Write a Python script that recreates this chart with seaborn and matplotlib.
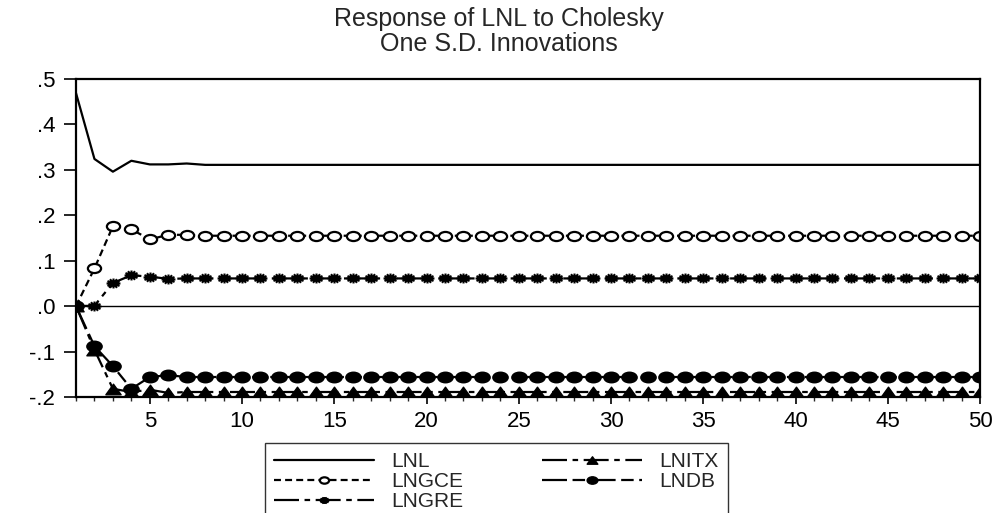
import numpy as np
import pandas as pd
import matplotlib
matplotlib.use("Agg")
import matplotlib.pyplot as plt
from matplotlib.ticker import MultipleLocator, FuncFormatter
from matplotlib.path import Path
from matplotlib.transforms import Affine2D
import seaborn as sns

# periodos 1..50
periods = list(range(1, 51))

# respostas (primeiros periodos), depois valor estavel
lnl_start = [0.469, 0.324, 0.296, 0.320, 0.312, 0.312, 0.314]
lnl_tail = 0.311
lngce_start = [0.0, 0.083, 0.176, 0.169, 0.147, 0.157, 0.157]
lngce_tail = 0.155
lngre_start = [0.0, 0.001, 0.051, 0.068, 0.065, 0.060, 0.061]
lngre_tail = 0.061
lnitx_start = [0.0, -0.096, -0.182, -0.189, -0.184, -0.191, -0.189]
lnitx_tail = -0.189
lndb_start = [0.0, -0.088, -0.132, -0.182, -0.156, -0.152, -0.156]
lndb_tail = -0.156

series_names = ["LNL", "LNGCE", "LNGRE", "LNITX", "LNDB"]
starts = [lnl_start, lngce_start, lngre_start, lnitx_start, lndb_start]
tails = [lnl_tail, lngce_tail, lngre_tail, lnitx_tail, lndb_tail]

rows = []
for name, st, tl in zip(series_names, starts, tails):
    vals = st + [tl] * (len(periods) - len(st))
    for p, v in zip(periods, vals):
        rows.append({"periodo": p, "resposta": v, "serie": name})
df = pd.DataFrame(rows)

# marcadores "achatados" como no original (mais largos que altos)
elipse = Path.unit_circle().transformed(Affine2D().scale(1.45, 1.0))
triangulo = Path([(-0.72, -0.5), (0.72, -0.5), (0, 0.5), (-0.72, -0.5)],
                 [Path.MOVETO, Path.LINETO, Path.LINETO, Path.CLOSEPOLY])
ast_verts, ast_codes = [], []
for ang in [0, 30, 60, 90, 120, 150]:
    a = np.deg2rad(ang)
    dx, dy = 0.7 * np.cos(a), 0.5 * np.sin(a)
    ast_verts += [(-dx, -dy), (dx, dy)]
    ast_codes += [Path.MOVETO, Path.LINETO]
asterisco = Path(ast_verts, ast_codes)

sns.set_style("ticks")
plt.rcParams['font.family'] = ['Liberation Sans', 'DejaVu Sans']
plt.rcParams['lines.scale_dashes'] = False

fig = plt.figure(figsize=(9.97, 5.13), dpi=100)
ax = fig.add_axes([76 / 997, 1 - 397 / 513, (980 - 76) / 997, (397 - 79) / 513])

estilos = {
    "LNL": dict(ls="-", marker=None),
    "LNGCE": dict(ls=(0, (5, 3)), marker=elipse, mfc="white", ms=9.5, mew=1.6),
    "LNGRE": dict(ls=(0, (18, 4, 4, 4)), marker=asterisco, ms=10, mew=1.5),
    "LNITX": dict(ls=(0, (18, 4, 4, 4)), marker=triangulo, mfc="black", ms=11, mew=1),
    "LNDB": dict(ls=(0, (18, 4, 9, 4)), marker=elipse, mfc="black", ms=11, mew=1),
}

for name in series_names:
    sub = df[df["serie"] == name]
    kw = dict(estilos[name])
    mk = kw.pop("marker")
    if mk is None:
        sns.lineplot(data=sub, x="periodo", y="resposta", ax=ax, color="black",
                     lw=1.6, label=name, **kw)
    else:
        sns.lineplot(data=sub, x="periodo", y="resposta", ax=ax, color="black",
                     lw=1.6, marker=mk, mec="black", label=name, **kw)

ax.axhline(0, color="black", lw=1, zorder=1)

ax.set_xlim(1, 50)
ax.set_ylim(-0.2, 0.5)
ax.xaxis.set_major_locator(MultipleLocator(5))
ax.xaxis.set_minor_locator(MultipleLocator(1))
ax.yaxis.set_major_locator(MultipleLocator(0.1))

def fmt_y(v, pos):
    s = f"{v:.1f}"
    s = s.replace("0.", ".")
    if s == "-.0":
        s = ".0"
    return s

ax.yaxis.set_major_formatter(FuncFormatter(fmt_y))
ax.tick_params(axis="both", which="major", direction="out", width=1.2,
               labelsize=16, color="black", labelcolor="black")
ax.tick_params(axis="y", which="major", length=9, pad=6)
ax.tick_params(axis="x", which="major", length=5, pad=5)
ax.tick_params(axis="x", which="minor", direction="out", length=3, width=1)
for sp in ax.spines.values():
    sp.set_visible(True)
    sp.set_linewidth(1.6)
    sp.set_color("black")
ax.set_xlabel("")
ax.set_ylabel("")

ax.get_legend().remove()
handles, labels = ax.get_legend_handles_labels()
leg = fig.legend(handles, labels, loc="upper left",
                 bbox_to_anchor=(265 / 997, 1 - 443 / 513), ncol=2,
                 fontsize=15, frameon=True, fancybox=False, edgecolor="black",
                 handlelength=4.8, handletextpad=0.8, columnspacing=3.8,
                 labelspacing=0.05, borderpad=0.45, borderaxespad=0,
                 markerscale=0.7)
leg.get_frame().set_linewidth(1)

fig.suptitle("Response of LNL to Cholesky\nOne S.D. Innovations", x=0.5,
             y=1 - 7 / 513, va="top", fontsize=18, linespacing=1.05)

fig.savefig("out.png", dpi=100)
